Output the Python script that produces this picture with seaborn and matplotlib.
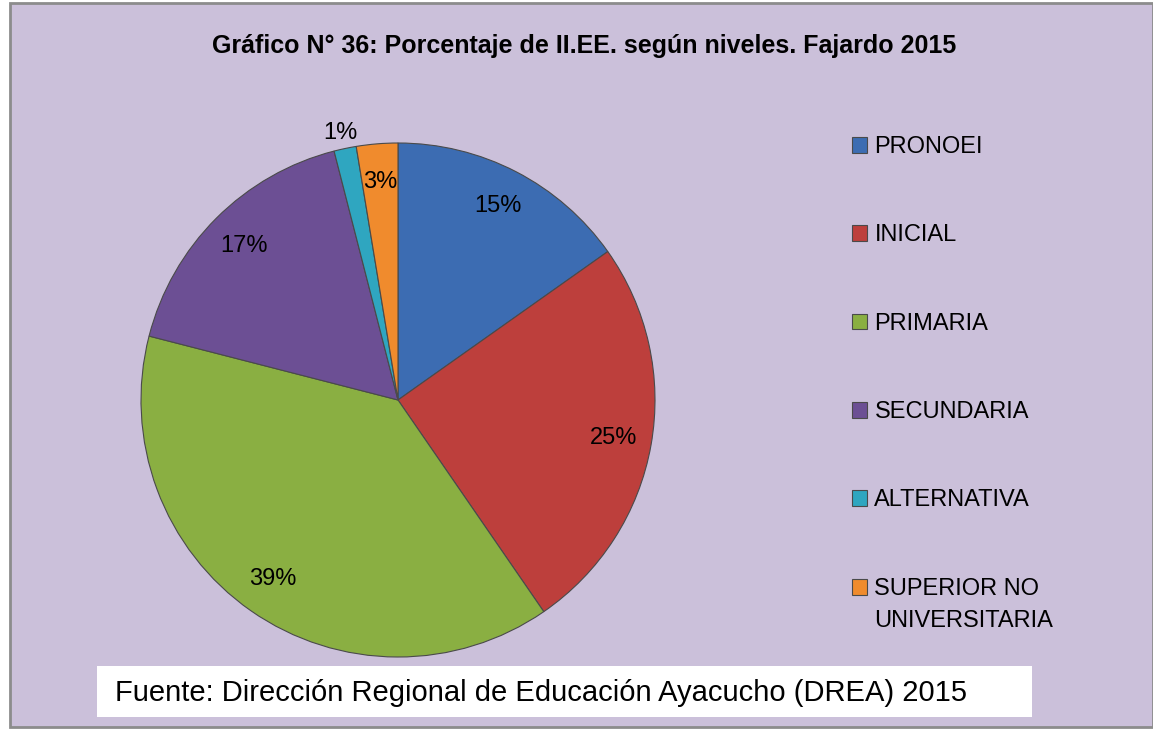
import numpy as np
import seaborn as sns
from matplotlib import pyplot as plt
from matplotlib.patches import Rectangle

niveles = ["PRONOEI", "INICIAL", "PRIMARIA", "SECUNDARIA", "ALTERNATIVA",
           "SUPERIOR NO\nUNIVERSITARIA"]
porcentajes = [15.2, 25.2, 38.6, 17.0, 1.4, 2.6]
colores = ["#3C6CB2", "#BD3F3C", "#8AAF42", "#6C4F94", "#2FA6C0", "#F08B2D"]

titulo = "Gráfico N° 36: Porcentaje de II.EE. según niveles. Fajardo 2015"
fuente = "Fuente: Dirección Regional de Educación Ayacucho (DREA) 2015"

sns.set_theme(style="white")
plt.rcParams['font.family'] = ['Liberation Sans', 'DejaVu Sans']
plt.rcParams['text.color'] = 'black'

W, H = 1153, 729
fig = plt.figure(figsize=(W / 100, H / 100), dpi=100)
fig.patch.set_facecolor('white')

# lavender chart area with grey border
fig.patches.append(Rectangle((10 / W, 2 / H), 1 - 10 / W, 1 - 5 / H, transform=fig.transFigure,
                             facecolor='#CBC0DA', edgecolor='#8C8C8C', lw=2, zorder=-10))

ax = fig.add_axes([141 / W, (H - 657) / H, 514 / W, 514 / H])
ax.patch.set_visible(False)
wedges, texts, autotexts = ax.pie(
    porcentajes, colors=colores, startangle=90, counterclock=False,
    autopct=lambda p: f"{p:.0f}%", pctdistance=0.85,
    wedgeprops=dict(edgecolor='#4A4A4A', linewidth=0.8),
    textprops=dict(fontsize=17, color='black'))
ax.set_xlim(-1, 1)
ax.set_ylim(-1, 1)
ax.set_aspect('equal')

# small slice label goes outside
w = wedges[4]
ang = np.deg2rad((w.theta1 + w.theta2) / 2)
autotexts[4].set_position((1.08 * np.cos(ang), 1.06 * np.sin(ang)))

fs_leg = 17
leg = ax.legend(wedges, niveles, loc='upper left', bbox_to_anchor=(852 / W, 1 - 136 / H),
                bbox_transform=fig.transFigure, frameon=False, fontsize=fs_leg,
                handlelength=0.65, handleheight=0.65, handletextpad=0.3,
                labelspacing=2.81, borderpad=0, borderaxespad=0)
# two-line entry: wider line gap, square next to the first line
ls = 1.6
leg.texts[5].set_linespacing(ls)
h = leg.legend_handles[5]
h.set_y(h.get_y() + fs_leg * ls / 2 * 0.95)

fig.text(584 / W, 1 - 46 / H, titulo, ha='center', va='center', fontsize=18, fontweight='bold')

fig.patches.append(Rectangle((97 / W, 1 - 717 / H), 935 / W, 51 / H, transform=fig.transFigure,
                             facecolor='white', edgecolor='none', zorder=1))
fig.text(115 / W, 1 - 693 / H, fuente, ha='left', va='center', fontsize=21, zorder=2)

plt.savefig("out.png", dpi=100)
